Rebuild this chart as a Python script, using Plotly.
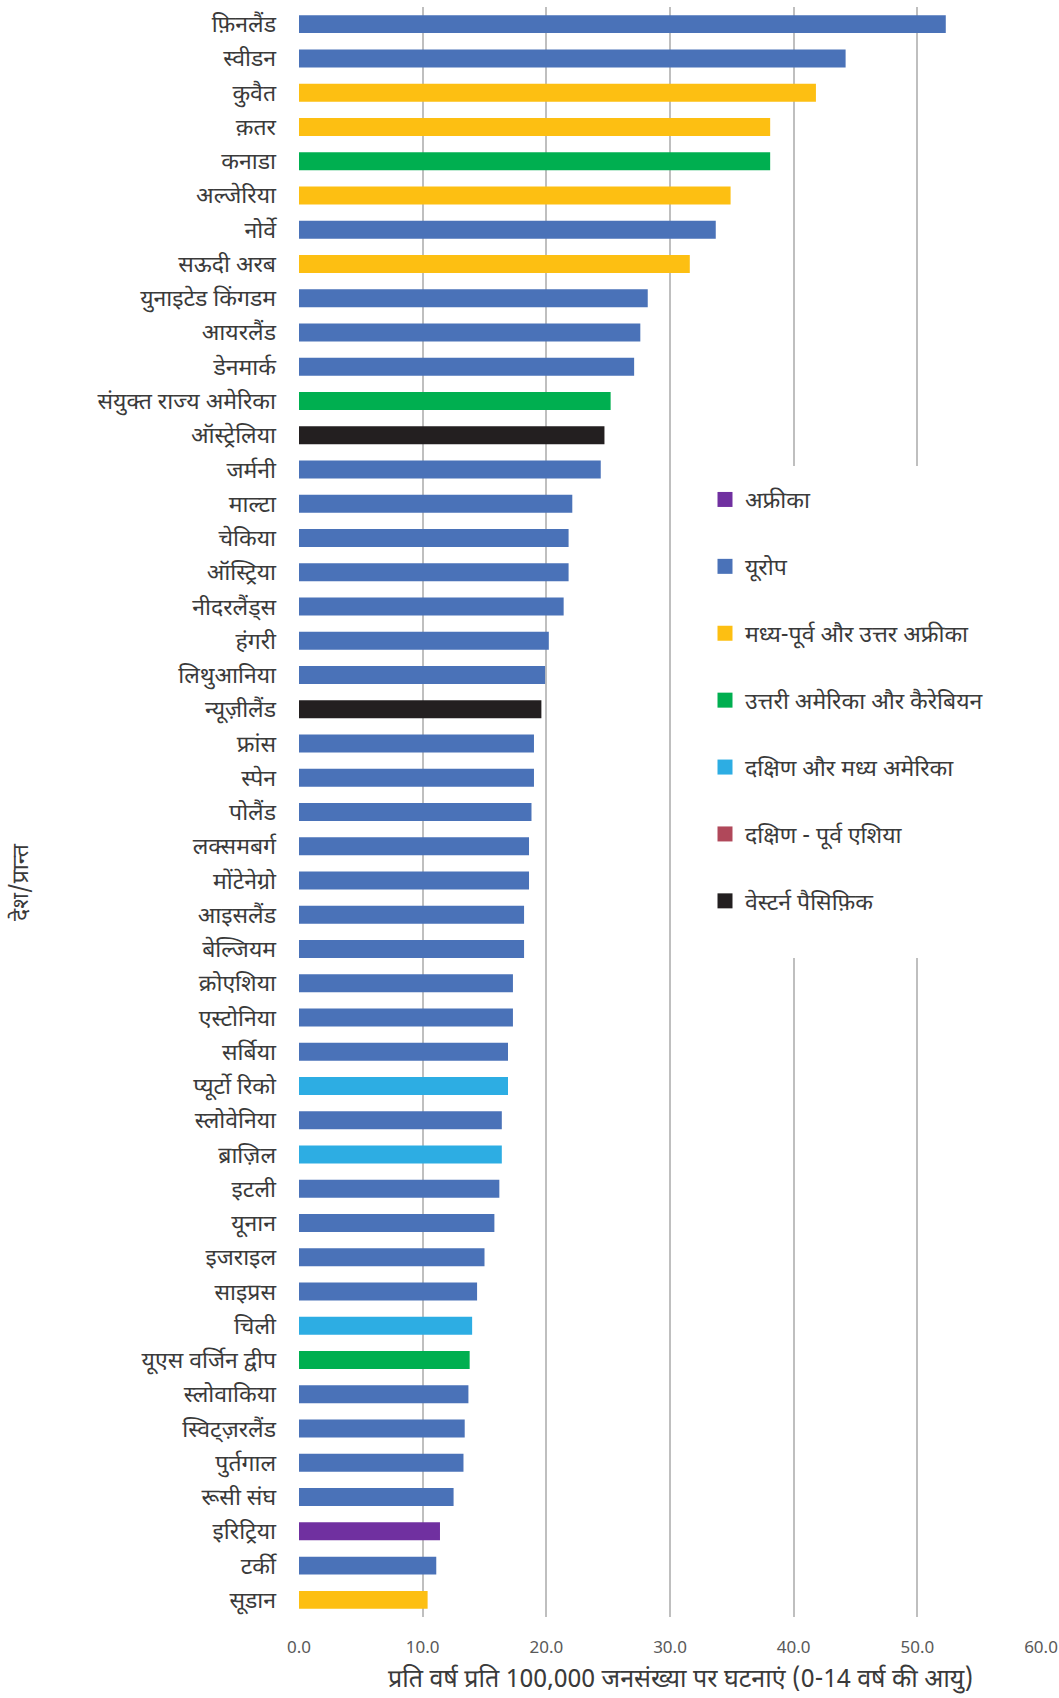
import plotly.graph_objects as go

countries = [
    "फ़िनलैंड", "स्वीडन", "कुवैत", "क़तर", "कनाडा", "अल्जेरिया", "नोर्वे", "सऊदी अरब",
    "युनाइटेड किंगडम", "आयरलैंड", "डेनमार्क", "संयुक्त राज्य अमेरिका", "ऑस्ट्रेलिया",
    "जर्मनी", "माल्टा", "चेकिया", "ऑस्ट्रिया", "नीदरलैंड्स", "हंगरी", "लिथुआनिया",
    "न्यूज़ीलैंड", "फ्रांस", "स्पेन", "पोलैंड", "लक्समबर्ग", "मोंटेनेग्रो", "आइसलैंड",
    "बेल्जियम", "क्रोएशिया", "एस्टोनिया", "सर्बिया", "प्यूर्टो रिको", "स्लोवेनिया",
    "ब्राज़िल", "इटली", "यूनान", "इजराइल", "साइप्रस", "चिली", "यूएस वर्जिन द्वीप",
    "स्लोवाकिया", "स्विट्ज़रलैंड", "पुर्तगाल", "रूसी संघ", "इरिट्रिया", "टर्की", "सूडान",
]

values = [
    52.3, 44.2, 41.8, 38.1, 38.1, 34.9, 33.7, 31.6,
    28.2, 27.6, 27.1, 25.2, 24.7,
    24.4, 22.1, 21.8, 21.8, 21.4, 20.2, 19.9,
    19.6, 19.0, 19.0, 18.8, 18.6, 18.6, 18.2,
    18.2, 17.3, 17.3, 16.9, 16.9, 16.4,
    16.4, 16.2, 15.8, 15.0, 14.4, 14.0, 13.8,
    13.7, 13.4, 13.3, 12.5, 11.4, 11.1, 10.4,
]

AF, EU, ME, NA, SA, SE, WP = "AF", "EU", "ME", "NA", "SA", "SE", "WP"
regions = [
    EU, EU, ME, ME, NA, ME, EU, ME,
    EU, EU, EU, NA, WP,
    EU, EU, EU, EU, EU, EU, EU,
    WP, EU, EU, EU, EU, EU, EU,
    EU, EU, EU, EU, SA, EU,
    SA, EU, EU, EU, EU, SA, NA,
    EU, EU, EU, EU, AF, EU, ME,
]

region_keys = [AF, EU, ME, NA, SA, SE, WP]
region_names = [
    "अफ्रीका",
    "यूरोप",
    "मध्य-पूर्व और उत्तर अफ्रीका",
    "उत्तरी अमेरिका और कैरेबियन",
    "दक्षिण और मध्य अमेरिका",
    "दक्षिण - पूर्व एशिया",
    "वेस्टर्न पैसिफ़िक",
]
region_colors = ["#7030A0", "#4A72B8", "#FDBF12", "#00AF50", "#2DADE3", "#B0485A", "#231F20"]

x_ticks = [0, 10, 20, 30, 40, 50, 60]
x_title = "प्रति वर्ष प्रति 100,000 जनसंख्या पर घटनाएं (0-14 वर्ष की आयु)"
y_title = "देश/प्रान्त"

FONT = "Noto Sans Devanagari, Noto Sans, sans-serif"
TEXT = "#3A3A3A"

W, H = 1059, 1698
L, R, T, B = 299, 18, 7, 81
PW, PH = W - L - R, H - T - B


def px_x(p):
    return (p - L) / PW


def px_y(p):
    return 1 - (p - T) / PH


fig = go.Figure()
# bars, one trace per region
for i, key in enumerate(region_keys):
    ys = [c for c, r in zip(countries, regions) if r == key]
    xs = [v for v, r in zip(values, regions) if r == key]
    if xs:
        fig.add_trace(go.Bar(
            x=xs, y=ys, orientation="h", name=region_names[i],
            marker=dict(color=region_colors[i], line=dict(width=0)),
            legendgroup=key, showlegend=False,
        ))
# legend entries (square keys) for every region
for i, key in enumerate(region_keys):
    fig.add_trace(go.Scatter(
        x=[None], y=[None], mode="markers", name=region_names[i],
        marker=dict(symbol="square", size=15, color=region_colors[i], line=dict(width=0)),
        legendgroup=key, showlegend=True, hoverinfo="skip",
    ))

fig.update_layout(
    width=W, height=H,
    margin=dict(l=L, r=R, t=T, b=B, pad=0, autoexpand=False),
    paper_bgcolor="white", plot_bgcolor="white",
    barmode="relative", bargap=0.475,
    font=dict(family=FONT, color=TEXT, size=23),
    showlegend=True,
    legend=dict(
        x=px_x(705), xanchor="left",
        y=px_y(478), yanchor="top",
        bgcolor="rgba(0,0,0,0)", borderwidth=0,
        font=dict(size=23, color=TEXT, family=FONT),
        tracegroupgap=34,
        itemsizing="trace",
    ),
    shapes=[
        dict(type="rect", xref="paper", yref="paper",
             x0=px_x(700), x1=px_x(1032), y0=px_y(958), y1=px_y(466),
             fillcolor="white", line=dict(width=0), layer="above"),
    ],
    xaxis=dict(
        range=[0, 60], tickvals=x_ticks, ticktext=[f"{t:.1f}" for t in x_ticks],
        showgrid=True, gridcolor="#BFBFBF", gridwidth=1.5,
        zeroline=False, showline=False, ticks="", automargin=False,
        tickfont=dict(size=17, color="#595959", family="Liberation Sans Narrow, Noto Sans, sans-serif"),
        ticklabelstandoff=18,
    ),
    yaxis=dict(
        type="category", categoryorder="array", categoryarray=countries,
        autorange="reversed", showgrid=False, zeroline=False, showline=False,
        ticks="", automargin=False, tickfont=dict(size=23, color=TEXT, family=FONT),
        ticklabelstandoff=22,
    ),
    annotations=[
        dict(text=x_title, xref="paper", yref="paper",
             x=px_x(680), y=px_y(1680),
             xanchor="center", yanchor="middle", showarrow=False,
             font=dict(size=25, color=TEXT, family=FONT)),
        dict(text=y_title, xref="paper", yref="paper", textangle=-90,
             x=px_x(22), y=px_y(882),
             xanchor="center", yanchor="middle", showarrow=False,
             font=dict(size=23, color=TEXT, family=FONT)),
    ],
)

fig.write_html("out.html")
